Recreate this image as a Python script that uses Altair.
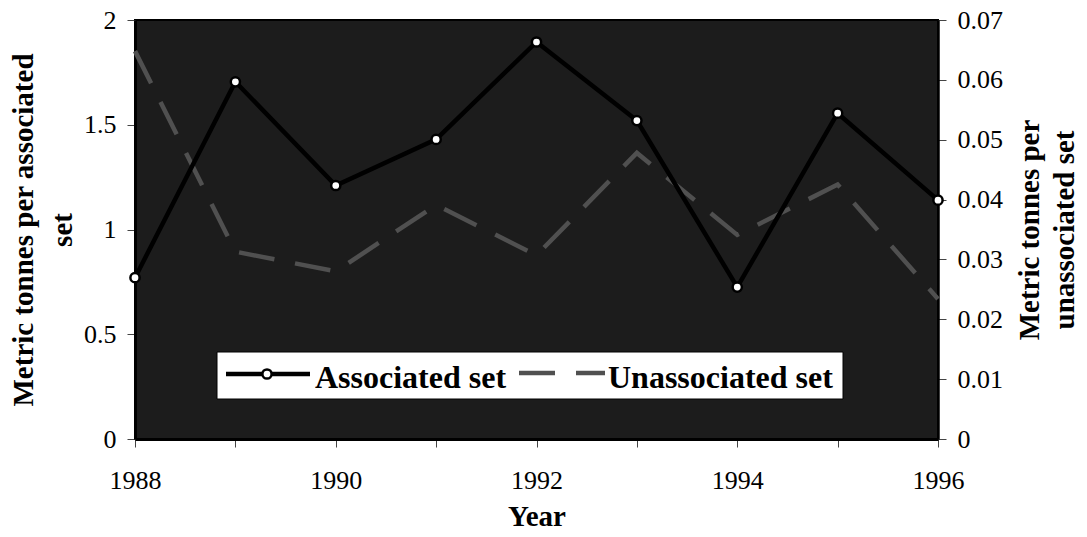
import altair as alt
import pandas as pd

years = [1988, 1989, 1990, 1991, 1992, 1993, 1994, 1995, 1996]
associated = [0.77, 1.705, 1.21, 1.43, 1.895, 1.52, 0.725, 1.555, 1.14]
unassociated = [0.0648, 0.0313, 0.0280, 0.0391, 0.0307, 0.0478, 0.0341, 0.0425, 0.0234]
left_ticks = [0, 0.5, 1, 1.5, 2]
right_ticks = [0, 0.01, 0.02, 0.03, 0.04, 0.05, 0.06, 0.07]
series_names = ["Associated set", "Unassociated set"]
left_title = ["Metric tonnes per associated", "set"]
right_title = ["Metric tonnes per", "unassociated set"]

df = pd.DataFrame({"Year": years, "Associated": associated, "Unassociated": unassociated})

FONT = "Liberation Serif"
W, H = 803, 419
DASH_COLOR = "#505050"

common_axis = dict(
    labelFont=FONT, labelFontSize=26, labelColor="black",
    titleFont=FONT, titleFontSize=29, titleFontWeight="bold", titleColor="black",
    tickSize=8, tickColor="#444", tickWidth=1,
    domainColor="black", grid=False, labelFlush=False, labelOverlap=False,
)

x_enc = alt.X(
    "Year:Q",
    scale=alt.Scale(domain=[1988, 1996], nice=False, zero=False),
    axis=alt.Axis(
        values=years, format="d",
        labelExpr="datum.value % 2 == 0 ? datum.label : ''",
        labelPadding=20, domainWidth=3,
        title="Year", titleX=W / 2, titleY=86, titleAlign="center",
        titleBaseline="alphabetic", **common_axis,
    ),
)

unassoc_line = alt.Chart(df).mark_line(
    color=DASH_COLOR, strokeWidth=4.5, strokeDash=[36, 21]
).encode(
    x=x_enc,
    y=alt.Y(
        "Unassociated:Q",
        scale=alt.Scale(domain=[0, 0.07], nice=False),
        axis=alt.Axis(
            orient="right", values=right_ticks, format="~g",
            labelPadding=11, labelAlign="left", labelBaseline="middle", domainWidth=2.5,
            title=right_title, titleAngle=270, titleX=100, titleY=H / 2,
            titleAlign="center", titleBaseline="alphabetic", titleLineHeight=35,
            **common_axis,
        ),
    ),
)

y_left = alt.Y(
    "Associated:Q",
    scale=alt.Scale(domain=[0, 2], nice=False),
    axis=alt.Axis(
        orient="left", values=left_ticks, format="~g",
        labelPadding=11, labelAlign="right", labelBaseline="middle", domainWidth=3,
        title=left_title, titleAngle=270, titleX=-103, titleY=H / 2,
        titleAlign="center", titleBaseline="alphabetic", titleLineHeight=39,
        **common_axis,
    ),
)

assoc_line = alt.Chart(df).mark_line(color="black", strokeWidth=4.5).encode(x=x_enc, y=y_left)
assoc_pts = alt.Chart(df).mark_point(
    shape="circle", filled=True, fill="white", stroke="black", strokeWidth=2.5, size=85, opacity=1
).encode(x=x_enc, y=y_left)

assoc = alt.layer(assoc_line, assoc_pts)

legend_df = pd.DataFrame({"k": [0]})
leg_box = alt.Chart(legend_df).mark_rect(fill="white", stroke="black", strokeWidth=1).encode(
    x=alt.value(82), x2=alt.value(708), y=alt.value(332), y2=alt.value(379)
)
leg_rule1 = alt.Chart(legend_df).mark_rule(color="black", strokeWidth=4.5).encode(
    x=alt.value(91), x2=alt.value(175), y=alt.value(354)
)
leg_pt1 = alt.Chart(legend_df).mark_point(
    shape="circle", filled=True, fill="white", stroke="black", strokeWidth=2.5, size=85, opacity=1
).encode(x=alt.value(132), y=alt.value(354))
leg_txt1 = alt.Chart(legend_df).mark_text(
    align="left", baseline="alphabetic", font=FONT, fontWeight="bold", fontSize=32, color="black"
).encode(x=alt.value(180), y=alt.value(368), text=alt.value(series_names[0]))
leg_rule2 = alt.Chart(legend_df).mark_rule(color=DASH_COLOR, strokeWidth=4.5, strokeDash=[36, 21]).encode(
    x=alt.value(384), x2=alt.value(470), y=alt.value(353)
)
leg_txt2 = alt.Chart(legend_df).mark_text(
    align="left", baseline="alphabetic", font=FONT, fontWeight="bold", fontSize=32, color="black"
).encode(x=alt.value(473), y=alt.value(368), text=alt.value(series_names[1]))

chart = alt.layer(
    unassoc_line, assoc, leg_box, leg_rule1, leg_pt1, leg_txt1, leg_rule2, leg_txt2
).resolve_scale(y="independent").properties(
    width=W, height=H,
    padding={"left": 127, "top": 12, "right": 141, "bottom": 90},
    autosize=alt.AutoSizeParams(type="none"),
    background="white",
).configure_view(
    fill="#1c1c1c", stroke="black", strokeWidth=2
)

chart.save("out.html", embed_options={"renderer": "svg", "actions": False})
